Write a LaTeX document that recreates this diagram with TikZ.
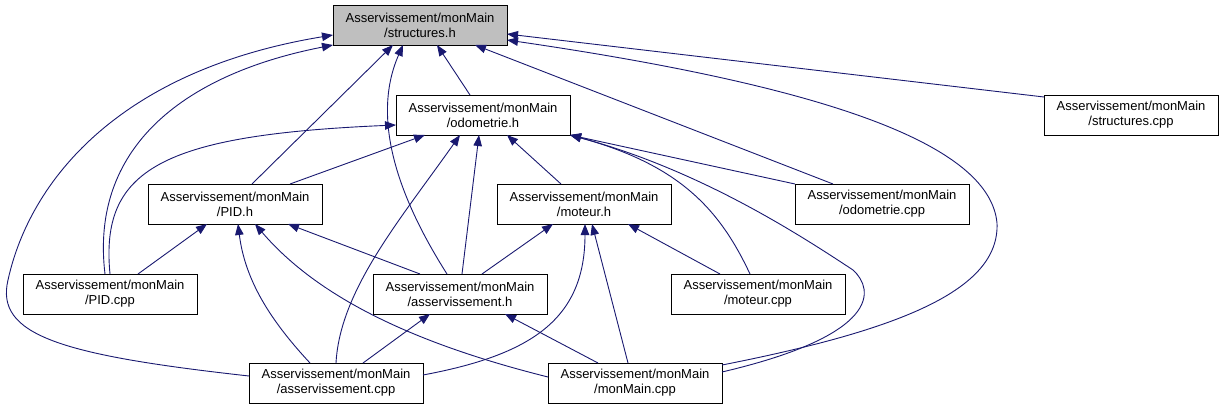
\documentclass[tikz,border=0pt]{standalone}
\usepackage{fontspec}
\setmainfont{Liberation Sans}
\usetikzlibrary{arrows.meta}
\definecolor{ink}{HTML}{000000}
\definecolor{edge}{HTML}{191970}
\definecolor{current}{HTML}{BFBFBF}

\begin{document}
\begin{tikzpicture}[
  x=1pt, y=-1pt,
  font=\fontsize{13}{15}\selectfont,
  text=ink,
  file/.style={
    draw=ink,
    line width=0.9pt,
    align=center,
    inner sep=0pt,
    outer sep=0pt,
    minimum width=174pt,
    minimum height=40pt,
    fill=white
  },
  header/.style={file},
  source/.style={file},
  root/.style={file, fill=current},
  dep/.style={-{Triangle[length=11pt,width=8.5pt]}, line width=0.9pt, draw=edge}
]
\useasboundingbox (0,0) rectangle (1223,409);

\node[root] (structh) at (420,25) {Asservissement/monMain\\/structures.h};
\node[header] (odoh) at (483,115) {Asservissement/monMain\\/odometrie.h};
\node[source] (structcpp) at (1131,115) {Asservissement/monMain\\/structures.cpp};
\node[header] (pidh) at (235,204) {Asservissement/monMain\\/PID.h};
\node[header] (moteurh) at (584,204) {Asservissement/monMain\\/moteur.h};
\node[source] (odocpp) at (882,204) {Asservissement/monMain\\/odometrie.cpp};
\node[source] (pidcpp) at (110,294) {Asservissement/monMain\\/PID.cpp};
\node[header] (asserh) at (460,294) {Asservissement/monMain\\/asservissement.h};
\node[source] (moteurcpp) at (758,294) {Asservissement/monMain\\/moteur.cpp};
\node[source] (assercpp) at (336,383) {Asservissement/monMain\\/asservissement.cpp};
\node[source] (maincpp) at (635,383) {Asservissement/monMain\\/monMain.cpp};

% structures.h
\draw[dep] ([xshift=-13pt]odoh.north) -- ([xshift=17pt]structh.south);
\draw[dep] ([xshift=17pt]pidh.north) -- ([xshift=-27pt]structh.south);
\draw[dep] ([xshift=-13pt]asserh.north) .. controls (400,200) and (370,120) .. ([xshift=-17pt]structh.south);
\draw[dep] ([xshift=-5pt]pidcpp.north) .. controls (90,150) and (180,75) .. (structh.south west);
\draw[dep] ([yshift=7pt]assercpp.west) .. controls (60,355) and (-5,335) .. (8,280)
  .. controls (30,180) and (120,70) .. ([yshift=-10pt]structh.west);
\draw[dep] ([xshift=-49pt]odocpp.north) -- ([xshift=55pt]structh.south);
\draw[dep] ([yshift=-2pt]structcpp.north west) -- ([yshift=-9pt]structh.east);
\draw[dep] ([yshift=18pt]maincpp.east) .. controls (900,330) and (1000,290) .. (997,223)
  .. controls (990,150) and (850,90) .. ([yshift=-15pt]structh.east);

% odometrie.h
\draw[dep] (pidcpp.north) .. controls (100,170) and (160,135) .. ([yshift=-10pt]odoh.west);
\draw[dep] ([xshift=55pt]pidh.north) -- ([xshift=-58pt]odoh.south);
\draw[dep] (assercpp.north) .. controls (340,290) and (400,220) .. ([xshift=-23pt]odoh.south);
\draw[dep] ([xshift=2pt]asserh.north) -- ([xshift=-4pt]odoh.south);
\draw[dep] ([xshift=-23pt]moteurh.north) -- ([xshift=24pt]odoh.south);
\draw[dep] (odocpp.north west) -- (odoh.south east);
\draw[dep] ([xshift=-8pt]moteurcpp.north) .. controls (720,210) and (680,165) .. (odoh.south east);
\draw[dep] ([yshift=11pt]maincpp.east) .. controls (880,335) and (875,290) .. (853,270)
  .. controls (800,235) and (700,170) .. (odoh.south east);

% PID.h
\draw[dep] ([xshift=28pt]pidcpp.north) -- ([xshift=-28pt]pidh.south);
\draw[dep] ([xshift=-26pt]assercpp.north) .. controls (270,320) and (245,280) .. ([xshift=3pt]pidh.south);
\draw[dep] ([xshift=-40pt]asserh.north) -- ([xshift=53pt]pidh.south);
\draw[dep] ([yshift=6pt]maincpp.west) .. controls (420,345) and (320,300) .. ([xshift=20pt]pidh.south);

% moteur.h
\draw[dep] ([xshift=22pt]asserh.north) -- ([xshift=-31pt]moteurh.south);
\draw[dep] ([yshift=8pt]assercpp.east) .. controls (530,355) and (585,320) .. ([xshift=1pt]moteurh.south);
\draw[dep] ([xshift=-7pt]maincpp.north) -- ([xshift=8pt]moteurh.south);
\draw[dep] ([xshift=-38pt]moteurcpp.north) -- ([xshift=44pt]moteurh.south);

% asservissement.h
\draw[dep] ([xshift=27pt]assercpp.north) -- ([xshift=-30pt]asserh.south);
\draw[dep] ([xshift=-37pt]maincpp.north) -- ([xshift=45pt]asserh.south);

\end{tikzpicture}
\end{document}
